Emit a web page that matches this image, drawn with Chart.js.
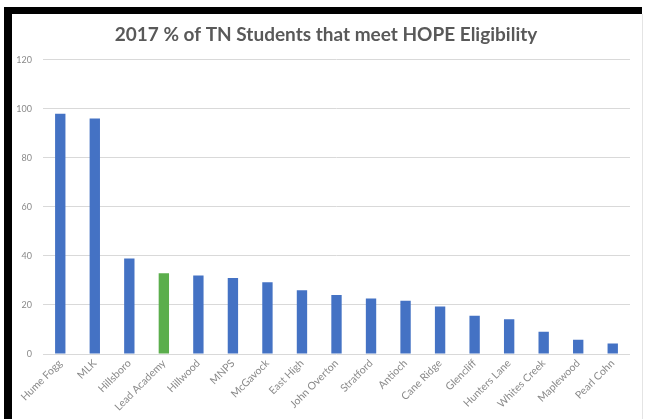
<!DOCTYPE html>
<html>
<head>
<meta charset="utf-8">
<script src="https://cdn.jsdelivr.net/npm/chart.js@4/dist/chart.umd.min.js"></script>
<style>
  html, body { margin: 0; padding: 0; background: #fff; }
  body { width: 646px; height: 419px; position: relative; overflow: hidden; }
  #frame {
    position: absolute; left: 4px; top: 7px; width: 638px; height: 412px;
    border-left: 8px solid #000; border-top: 7px solid #000; box-sizing: border-box;
  }
  #box { position: absolute; left: 12px; top: 14px; width: 628px; height: 405px; }
  #edge {
    position: absolute; left: 642px; top: 14px; width: 1px; height: 405px; background: #e4e4e4;
  }
</style>
</head>
<body>
<div id="frame"></div>
<div id="edge"></div>
<div id="box"><canvas id="myChart"></canvas></div>
<script>
const schools = ['Hume Fogg', 'MLK', 'Hillsboro', 'Lead Academy', 'Hillwood', 'MNPS', 'McGavock',
  'East High', 'John Overton', 'Stratford', 'Antioch', 'Cane Ridge', 'Glencliff', 'Hunters Lane',
  'Whites Creek', 'Maplewood', 'Pearl Cohn']
const eligible = [98.0, 96.1, 39.0, 32.9, 32.0, 31.0, 29.3, 26.0, 24.1, 22.6, 21.7, 19.4, 15.6, 14.2, 9.1, 5.8, 4.3]
const yTicks = [0, 20, 40, 60, 80, 100, 120]
const highlight = 'Lead Academy'

const blue = '#4472C4'
const green = '#5BAE4C'
const barColors = schools.map(s => s === highlight ? green : blue)

const ctx = document.getElementById('myChart').getContext('2d')
const myChart = new Chart(ctx, {
  type: 'bar',
  data: {
    labels: schools,
    datasets: [{
      label: '2017',
      data: eligible,
      backgroundColor: barColors,
      barPercentage: 0.3,
      categoryPercentage: 1.0,
    }]
  },
  options: {
    responsive: true,
    maintainAspectRatio: false,
    animation: false,
    layout: { padding: 0 },
    plugins: {
      legend: { display: false },
      tooltip: { enabled: false },
      title: {
        display: true,
        text: '2017 % of TN Students that meet HOPE Eligibility',
        color: '#595959',
        font: { family: 'Lato', size: 19, weight: 'bold' },
        padding: { top: 9, bottom: 14 }
      }
    },
    scales: {
      x: {
        grid: { display: false, drawTicks: false },
        border: { display: false },
        ticks: {
          color: '#8a8a8a',
          font: { family: 'Lato', size: 10.5 },
          maxRotation: 45, minRotation: 45,
          autoSkip: false,
          padding: 3
        },
        afterFit: scale => { scale.height = 65 }
      },
      y: {
        min: 0,
        max: 120,
        afterBuildTicks: scale => { scale.ticks = yTicks.map(v => ({ value: v })) },
        grid: { color: '#d9d9d9', lineWidth: 1, drawTicks: false },
        border: { display: false },
        ticks: {
          color: '#8a8a8a',
          font: { family: 'Lato', size: 9 },
          padding: 11
        },
        afterFit: scale => { scale.width = 31 }
      },
      // empty strip on the right so the title stays centred on the whole box
      spacer: {
        type: 'linear',
        position: 'right',
        display: true,
        grid: { display: false, drawTicks: false },
        border: { display: false },
        ticks: { display: false },
        afterFit: scale => { scale.width = 10 }
      }
    }
  }
})
</script>
</body>
</html>
